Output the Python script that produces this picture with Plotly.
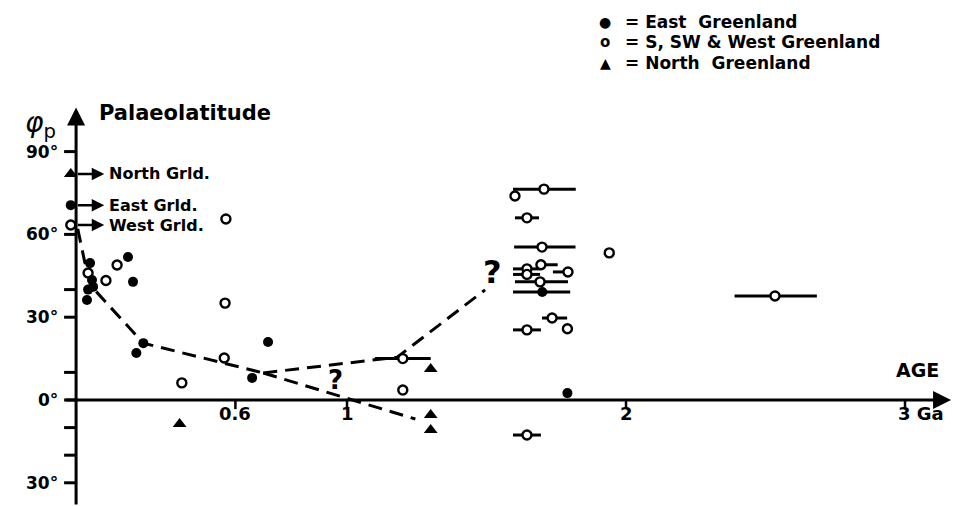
import plotly.graph_objects as go

# ---------------- data (age in Ga, palaeolatitude in degrees) ----------------
east_age = [0.01, 0.079, 0.072, 0.086, 0.09, 0.068, 0.215, 0.233, 0.27, 0.245, 0.66, 0.717, 1.70, 1.79]
east_lat = [70.6, 49.6, 40.0, 43.5, 41.0, 36.2, 51.8, 42.8, 20.6, 17.0, 8.0, 21.0, 39.1, 2.5]
east_err_minus = [0, 0, 0, 0, 0, 0, 0, 0, 0, 0, 0, 0, 0.105, 0]
east_err_plus = [0, 0, 0, 0, 0, 0, 0, 0, 0, 0, 0, 0, 0.10, 0]

west_age = [0.01, 0.072, 0.136, 0.176, 0.566, 0.563, 0.56, 0.408, 1.20, 1.20,
            1.602, 1.706, 1.645, 1.699, 1.94, 1.695, 1.792, 1.645, 1.645, 1.692,
            1.735, 1.79, 1.645, 1.645, 2.534]
west_lat = [63.4, 46.0, 43.3, 48.9, 65.6, 35.1, 15.2, 6.2, 15.0, 3.6,
            73.9, 76.4, 66.0, 55.4, 53.3, 49.0, 46.4, 47.5, 45.5, 42.8,
            29.7, 25.8, 25.4, -12.7, 37.7]
west_err_minus = [0, 0, 0, 0, 0, 0, 0, 0, 0.10, 0,
                  0, 0.111, 0.043, 0.10, 0, 0.015, 0.054, 0.05, 0.05, 0.09,
                  0.036, 0, 0.05, 0.05, 0.145]
west_err_plus = [0, 0, 0, 0, 0, 0, 0, 0, 0.10, 0,
                 0, 0.114, 0.043, 0.12, 0, 0.06, 0.0, 0.047, 0.047, 0.10,
                 0.054, 0, 0.05, 0.05, 0.15]

north_age = [0.01, 0.40, 1.30, 1.30, 1.30]
north_lat = [81.9, -8.7, 11.2, -5.4, -10.9]

curve_age = [0.035, 0.06, 0.09, 0.27, 0.70]
curve_lat = [62, 50, 40.5, 20.6, 9.8]
upper_age = [0.70, 1.18, 1.495]
upper_lat = [9.8, 15.5, 39.9]
lower_age = [0.70, 1.245]
lower_lat = [9.8, -6.9]

x_ticks = [0.6, 1, 2, 3]
x_tick_labels = ["0.6", "1", "2", "3 Ga"]
y_ticks = [90, 60, 40, 30, 10, 0, -10, -20, -30]
y_tick_labels = ["90°", "60°", "", "30°", "", "0°", "", "", "30°"]

# ---------------- figure ----------------
X0, X1 = -0.2437, 3.172
Y0, Y1 = -38.41, 144.93
YAX = 0.029          # age at which the vertical axis is drawn
FONT = "DejaVu Sans"


def bold(t):
    return "<b>" + t + "</b>"


fig = go.Figure()

dash = dict(color="black", width=3, dash="14px,8px")
for xs, ys in [(curve_age, curve_lat), (upper_age, upper_lat), (lower_age, lower_lat)]:
    fig.add_trace(go.Scatter(x=xs, y=ys, mode="lines", line=dash, hoverinfo="skip"))

fig.add_trace(go.Scatter(
    x=west_age, y=west_lat, mode="markers",
    marker=dict(symbol="circle", size=9, color="white", line=dict(color="black", width=2.4)),
    error_x=dict(type="data", symmetric=False, array=west_err_plus, arrayminus=west_err_minus,
                 color="black", thickness=3, width=0),
))
fig.add_trace(go.Scatter(
    x=east_age, y=east_lat, mode="markers",
    marker=dict(symbol="circle", size=10, color="black"),
    error_x=dict(type="data", symmetric=False, array=east_err_plus, arrayminus=east_err_minus,
                 color="black", thickness=3, width=0),
))
fig.add_trace(go.Scatter(
    x=north_age, y=north_lat, mode="markers",
    marker=dict(symbol="triangle-up", size=12, color="black"),
))

shapes = []
# y ticks
for v in y_ticks:
    shapes.append(dict(type="line", xref="x", yref="y", x0=-0.014, x1=YAX, y0=v, y1=v,
                       line=dict(color="black", width=3)))
# x ticks
for v in x_ticks:
    shapes.append(dict(type="line", xref="x", yref="y", x0=v, x1=v, y0=0, y1=-3.3,
                       line=dict(color="black", width=2.5)))

annotations = []
arrow_font = dict(family=FONT, size=10, color="black")
# axes with arrowheads
annotations.append(dict(x=YAX, y=106, ax=YAX, ay=Y0, xref="x", yref="y", axref="x", ayref="y",
                        text="", font=arrow_font, showarrow=True, arrowhead=2, arrowsize=1.2,
                        arrowwidth=3, arrowcolor="black"))
annotations.append(dict(x=3.165, y=0, ax=-0.014, ay=0, xref="x", yref="y", axref="x", ayref="y",
                        text="", font=arrow_font, showarrow=True, arrowhead=2, arrowsize=1.2,
                        arrowwidth=3, arrowcolor="black"))

# tick labels
for v, t in zip(y_ticks, y_tick_labels):
    if t:
        annotations.append(dict(x=-0.03, y=v, xref="x", yref="y", text=bold(t), showarrow=False,
                                xanchor="right", yanchor="middle",
                                font=dict(family=FONT, size=17, color="black")))
for v, t in zip(x_ticks, x_tick_labels):
    annotations.append(dict(x=v, y=-4.8, xref="x", yref="y", text=bold(t), showarrow=False,
                            xanchor="left" if t.endswith("Ga") else "center", yanchor="middle",
                            xshift=-9 if t.endswith("Ga") else 0,
                            font=dict(family=FONT, size=18, color="black")))

# axis titles
annotations.append(dict(x=0.104, y=104, xref="x", yref="y", text=bold("Palaeolatitude"), showarrow=False,
                        xanchor="left", yanchor="middle", font=dict(family=FONT, size=21, color="black")))
annotations.append(dict(x=-0.1, y=100, xref="x", yref="y", text="<i>φ</i><sub>p</sub>", showarrow=False,
                        xanchor="center", yanchor="middle", font=dict(family=FONT, size=28, color="black")))
annotations.append(dict(x=3.13, y=10.9, xref="x", yref="y", text=bold("AGE"), showarrow=False,
                        xanchor="right", yanchor="middle", font=dict(family=FONT, size=19, color="black")))

# labels at y axis with arrows
for lbl, lat in [("North Grld.", 81.9), ("East Grld.", 70.6), ("West Grld.", 63.4)]:
    annotations.append(dict(x=0.13, y=lat, ax=0.03, ay=lat, xref="x", yref="y", axref="x", ayref="y",
                            text="", font=arrow_font, showarrow=True, arrowhead=2, arrowsize=1,
                            arrowwidth=2.5, arrowcolor="black"))
    annotations.append(dict(x=0.142, y=lat, xref="x", yref="y", text=bold(lbl), showarrow=False,
                            xanchor="left", yanchor="middle", borderpad=0,
                            font=dict(family=FONT, size=16, color="black")))

# question marks
annotations.append(dict(x=0.96, y=7.2, xref="x", yref="y", text=bold("?"), showarrow=False,
                        font=dict(family=FONT, size=26, color="black")))
annotations.append(dict(x=1.52, y=46.5, xref="x", yref="y", text=bold("?"), showarrow=False,
                        font=dict(family=FONT, size=32, color="black")))

# legend
legend_rows = [("●", "= East  Greenland", 21.5), ("o", "= S, SW & West Greenland", 42),
               ("▲", "= North  Greenland", 62.5)]
for sym, txt, py in legend_rows:
    yy = Y1 - (Y1 - Y0) * py / 506
    annotations.append(dict(x=605 / 953, y=yy, xref="paper", yref="y", text=bold(sym), showarrow=False,
                            xanchor="center", yanchor="middle", borderpad=0,
                            font=dict(family=FONT, size=14 if sym != "o" else 15, color="black")))
    annotations.append(dict(x=624 / 953, y=yy, xref="paper", yref="y", text=bold(txt), showarrow=False,
                            xanchor="left", yanchor="middle", borderpad=0,
                            font=dict(family=FONT, size=17, color="black")))

fig.update_layout(
    width=953, height=506,
    margin=dict(l=0, r=0, t=0, b=0),
    paper_bgcolor="white", plot_bgcolor="white",
    showlegend=False,
    xaxis=dict(range=[X0, X1], visible=False, fixedrange=True),
    yaxis=dict(range=[Y0, Y1], visible=False, fixedrange=True),
    shapes=shapes, annotations=annotations,
)

fig.write_html("out.html")
